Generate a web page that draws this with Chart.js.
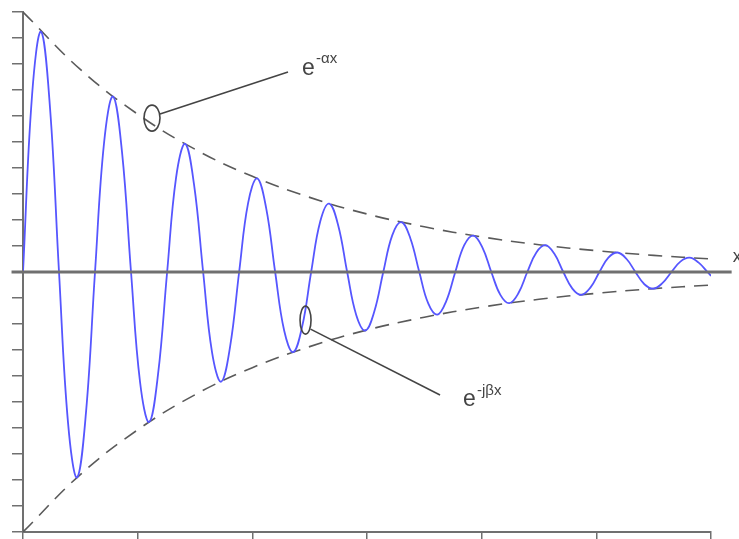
<!DOCTYPE html>
<html>
<head>
<meta charset="utf-8">
<title>Damped wave</title>
<script src="https://cdn.jsdelivr.net/npm/chart.js@4.4.1/dist/chart.umd.min.js"></script>
<style>
  html, body { margin: 0; padding: 0; background: #ffffff; }
  #wrap { width: 739px; height: 539px; }
</style>
</head>
<body>
<div id="wrap"><canvas id="wave"></canvas></div>
<script>
// wave samples (eighth-period steps)
const waveX = [
  0, 0.079, 0.157, 0.236, 0.314, 0.393, 0.471, 0.550, 0.628, 0.707,
  0.785, 0.864, 0.942, 1.021, 1.100, 1.178, 1.257, 1.335, 1.414, 1.492,
  1.571, 1.649, 1.728, 1.806, 1.885, 1.963, 2.042, 2.121, 2.199, 2.278,
  2.356, 2.435, 2.513, 2.592, 2.670, 2.749, 2.827, 2.906, 2.985, 3.063,
  3.142, 3.220, 3.299, 3.377, 3.456, 3.534, 3.613, 3.691, 3.770, 3.848,
  3.927, 4.006, 4.084, 4.163, 4.241, 4.320, 4.398, 4.477, 4.555, 4.634,
  4.712, 4.791, 4.869, 4.948, 5.027, 5.105, 5.184, 5.262, 5.341, 5.419,
  5.498, 5.576, 5.655, 5.733, 5.812, 5.890, 5.969, 6
];
const waveY = [
  0, 6.80, 9.24, 6.29, 0, -5.81, -7.90, -5.37, 0, 4.97,
  6.75, 4.59, 0, -4.24, -5.77, -3.92, 0, 3.63, 4.93, 3.35,
  0, -3.10, -4.22, -2.87, 0, 2.65, 3.60, 2.45, 0, -2.26,
  -3.08, -2.09, 0, 1.94, 2.63, 1.79, 0, -1.65, -2.25, -1.53,
  0, 1.41, 1.92, 1.31, 0, -1.21, -1.64, -1.12, 0, 1.03,
  1.40, 0.95, 0, -0.88, -1.20, -0.82, 0, 0.75, 1.03, 0.70,
  0, -0.64, -0.88, -0.60, 0, 0.55, 0.75, 0.51, 0, -0.47,
  -0.64, -0.43, 0, 0.40, 0.55, 0.37, 0, -0.15
];

// envelope
const envX = [0, 0.5, 1, 1.5, 2, 2.5, 3, 3.5, 4, 4.5, 5, 5.5, 6];
const envY = [10, 7.79, 6.07, 4.72, 3.68, 2.87, 2.23, 1.74, 1.35, 1.05, 0.82, 0.64, 0.50];

// horizontal axis through zero
const axisX = [-0.1, 6.18];

const axisColor = '#707070';
const inkColor = '#444444';

function points(xs, ys) {
  return xs.map((x, i) => ({ x: x, y: ys[i] }));
}

// labels with leader lines and small ellipses
const annotations = {
  id: 'annotations',
  afterDraw(chart) {
    const ctx = chart.ctx;
    const sx = chart.scales.x;
    const sy = chart.scales.y;
    const px = v => sx.getPixelForValue(v);
    const py = v => sy.getPixelForValue(v);

    ctx.save();
    ctx.strokeStyle = inkColor;
    ctx.lineWidth = 1.6;

    // e^-αx
    ctx.beginPath();
    ctx.ellipse(px(1.125), py(5.92), 8, 13, 0, 0, Math.PI * 2);
    ctx.stroke();
    ctx.beginPath();
    ctx.moveTo(px(1.125) + 8, py(5.92) - 4);
    ctx.lineTo(px(2.311), py(7.69));
    ctx.stroke();

    // e^-jβx
    ctx.beginPath();
    ctx.ellipse(px(2.464), py(-1.85), 5.5, 14, 0, 0, Math.PI * 2);
    ctx.stroke();
    ctx.beginPath();
    ctx.moveTo(px(2.464) + 5, py(-1.85) + 9);
    ctx.lineTo(px(3.637), py(-4.73));
    ctx.stroke();

    ctx.fillStyle = inkColor;
    ctx.textAlign = 'left';
    ctx.textBaseline = 'alphabetic';

    ctx.font = '23px "Liberation Sans", Arial, sans-serif';
    ctx.fillText('e', px(2.433), py(7.58));
    ctx.fillText('e', px(3.837), py(-5.15));

    ctx.font = '15px "Liberation Sans", Arial, sans-serif';
    ctx.fillText('-αx', px(2.433) + 14, py(7.58) - 12);
    ctx.fillText('-jβx', px(3.837) + 14, py(-5.15) - 11);

    // axis name at the end of the zero line
    ctx.font = '18px "Liberation Sans", Arial, sans-serif';
    ctx.fillText('x', px(6.18) + 1, py(0) - 10);
    ctx.restore();
  }
};

new Chart(document.getElementById('wave'), {
  type: 'line',
  data: {
    datasets: [
      {
        data: points(axisX, [0, 0]),
        borderColor: axisColor,
        borderWidth: 3,
        pointRadius: 0,
        clip: false,
        order: 0
      },
      {
        data: points(waveX, waveY),
        borderColor: '#5656ff',
        borderWidth: 1.8,
        pointRadius: 0,
        tension: 0.4,
        order: 1
      },
      {
        data: points(envX, envY),
        borderColor: '#5a5a5a',
        borderWidth: 1.6,
        borderDash: [14, 9],
        pointRadius: 0,
        tension: 0.4,
        order: 2
      },
      {
        data: points(envX, envY.map(v => -v)),
        borderColor: '#5a5a5a',
        borderWidth: 1.6,
        borderDash: [14, 9],
        pointRadius: 0,
        tension: 0.4,
        order: 2
      }
    ]
  },
  options: {
    responsive: true,
    maintainAspectRatio: false,
    animation: false,
    layout: { padding: { left: 0, top: 12, right: 28, bottom: 0 } },
    plugins: {
      legend: { display: false },
      tooltip: { enabled: false }
    },
    scales: {
      x: {
        type: 'linear',
        min: 0,
        max: 6,
        ticks: { display: false, stepSize: 1 },
        grid: { drawOnChartArea: false, tickLength: 8, color: axisColor, lineWidth: 1.5 },
        border: { color: axisColor, width: 2 },
        afterFit: scale => { scale.height = 7; }
      },
      y: {
        min: -10,
        max: 10,
        ticks: { display: false, stepSize: 1 },
        grid: { drawOnChartArea: false, tickLength: 11, color: axisColor, lineWidth: 1.5 },
        border: { color: axisColor, width: 2 },
        afterFit: scale => { scale.width = 23; }
      }
    }
  },
  plugins: [annotations]
});
</script>
</body>
</html>
